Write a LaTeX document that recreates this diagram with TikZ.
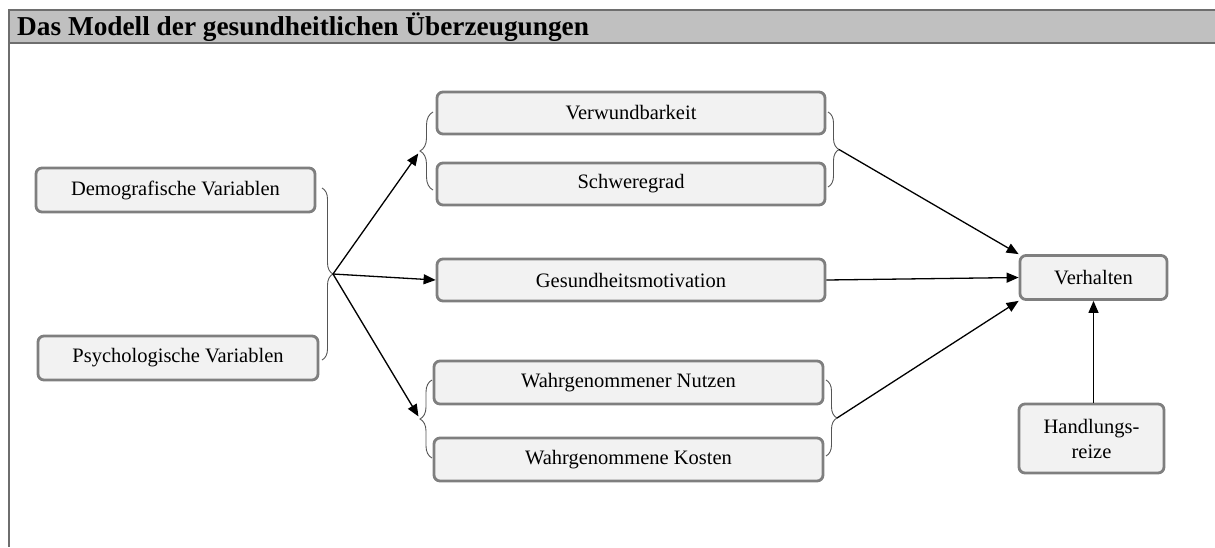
\documentclass[tikz,border=0pt]{standalone}
\usepackage{fontspec}
\setmainfont{Liberation Serif}
\usetikzlibrary{arrows.meta,decorations.pathreplacing}
\definecolor{boxfill}{HTML}{F2F2F2}
\definecolor{boxline}{HTML}{7F7F7F}
\definecolor{barfill}{HTML}{C0C0C0}
\definecolor{barline}{HTML}{6E6E6E}
\definecolor{braceline}{HTML}{555555}

\begin{document}
\begin{tikzpicture}[x=1pt,y=-1pt,
  box/.style={draw=boxline, line width=2.8pt, fill=boxfill, rounded corners=6pt,
    inner sep=0pt, align=center, font=\fontsize{20.5}{25}\selectfont},
  conn/.style={draw=black, line width=1.3pt, -{Triangle[length=12pt,width=10pt]}},
  curly/.style={draw=braceline, line width=0.9pt, decorate,
    decoration={brace, amplitude=11pt}},
]
\useasboundingbox (0,0) rectangle (1215,547);

% title bar and frame
\fill[barfill] (9,10) rectangle (1215,43);
\draw[barline, line width=1.6pt] (1215,10) -- (9,10) -- (9,547);
\draw[barline, line width=1.6pt] (9,43) -- (1215,43);
\node[anchor=west, inner sep=0pt, font=\bfseries\fontsize{27.3}{30}\selectfont]
  (title) at (17,27) {Das Modell der gesundheitlichen Überzeugungen};

% boxes
\node[box, minimum width=279pt, minimum height=44pt] (demo) at (175.5,190) {Demografische Variablen};
\node[box, minimum width=280pt, minimum height=44pt] (psych) at (178,358) {Psychologische Variablen};
\node[box, minimum width=388pt, minimum height=42pt] (verw) at (631,113) {Verwundbarkeit};
\node[box, minimum width=388pt, minimum height=42pt] (schw) at (631,184) {Schweregrad};
\node[box, minimum width=388pt, minimum height=42pt] (ges) at (631,280) {Gesundheitsmotivation};
\node[box, minimum width=389pt, minimum height=43pt] (nutz) at (628.5,382.5) {Wahrgenommener Nutzen};
\node[box, minimum width=389pt, minimum height=43pt] (kost) at (628.5,459.5) {Wahrgenommene Kosten};
\node[box, minimum width=147pt, minimum height=44pt] (verh) at (1093.5,277.5) {Verhalten};
\node[box, minimum width=145pt, minimum height=69pt] (hand) at (1091.5,438.5) {Handlungs-\\reize};

% braces grouping the boxes
\draw[curly] (322,188) -- (322,360);
\draw[curly, decoration={amplitude=13pt}] (433,190) -- (433,112);
\draw[curly] (828,112) -- (828,187);
\draw[curly, decoration={amplitude=12pt}] (432,458) -- (432,380);
\draw[curly] (826,380) -- (826,456);

\coordinate (lb) at (333,274);
\coordinate (ulb) at (420,151);
\coordinate (urb) at (839,149.5);
\coordinate (llb) at (420,419);
\coordinate (lrb) at (837,418);

% connectors
\draw[conn, shorten >=3pt] (lb) -- (ulb);
\draw[conn] (lb) -- (ges.west);
\draw[conn, shorten >=3pt] (lb) -- (llb);
\draw[conn] (urb) -- (verh.north west);
\draw[conn] (ges.east) -- (verh.west);
\draw[conn] (lrb) -- (verh.south west);
\draw[conn] (hand.north -| verh.south) -- (verh.south);
\end{tikzpicture}
\end{document}
